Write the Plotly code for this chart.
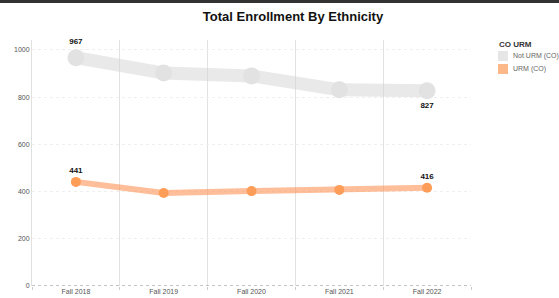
import plotly.graph_objects as go

terms = ["Fall 2018", "Fall 2019", "Fall 2020", "Fall 2021", "Fall 2022"]
not_urm = [967, 902, 890, 831, 827]
urm = [441, 394, 402, 407, 416]
series_names = ["Not URM (CO)", "URM (CO)"]
series_colors = ["#e6e6e6", "#fdb88a"]
legend_title = "CO URM"
y_ticks = [0, 200, 400, 600, 800, 1000]

W, H = 559, 298
ml, mr, mt, mb = 32, 88, 40, 12
pw, ph = W - ml - mr, H - mt - mb

def end_labels(vals):
    return [str(v) if i in (0, len(vals) - 1) else "" for i, v in enumerate(vals)]

fig = go.Figure()

fig.add_trace(go.Scatter(
    x=terms, y=not_urm, mode="lines+markers+text", name=series_names[0],
    line=dict(color="rgba(212,212,212,0.5)", width=13),
    marker=dict(color="#e2e2e2", size=17),
    text=end_labels(not_urm),
    textposition=["top center", "top center", "top center", "top center", "bottom center"],
    textfont=dict(family="Arial", size=8, color="#111111", weight="bold"),
    cliponaxis=False, showlegend=False, hoverinfo="skip"))

fig.add_trace(go.Scatter(
    x=terms, y=urm, mode="lines+markers+text", name=series_names[1],
    line=dict(color="rgba(253,150,90,0.62)", width=6),
    marker=dict(color="#fd9d58", size=10),
    text=end_labels(urm),
    textposition="top center",
    textfont=dict(family="Arial", size=8, color="#111111", weight="bold"),
    cliponaxis=False, showlegend=False, hoverinfo="skip"))

def px_x(p):
    return (p - ml) / pw

def px_y(p):
    return 1 - (p - mt) / ph

shapes = [
    dict(type="line", xref="paper", yref="y", x0=0, x1=1, y0=0, y1=0,
         line=dict(color="#888888", width=1, dash="dot")),
    dict(type="rect", xref="paper", yref="paper", x0=px_x(0), x1=px_x(W),
         y0=px_y(3), y1=px_y(0), fillcolor="#333333", line=dict(width=0)),
]
annotations = [
    dict(xref="paper", yref="paper", x=px_x(497), y=px_y(45), xanchor="left", yanchor="middle",
         text="<b>" + legend_title + "</b>", showarrow=False,
         font=dict(family="Arial", size=8, color="#333333")),
]
for i, (name, col) in enumerate(zip(series_names, series_colors)):
    cy = 56 + i * 13
    shapes.append(dict(type="rect", xref="paper", yref="paper",
                       x0=px_x(498), x1=px_x(508), y0=px_y(cy + 5), y1=px_y(cy - 5),
                       fillcolor=col, line=dict(width=0)))
    annotations.append(dict(xref="paper", yref="paper", x=px_x(511), y=px_y(cy),
                            xanchor="left", yanchor="middle", text=name, showarrow=False,
                            font=dict(family="Arial", size=7, color="#666666")))

fig.update_layout(
    width=W, height=H,
    margin=dict(l=ml, r=mr, t=mt, b=mb, autoexpand=False),
    paper_bgcolor="white", plot_bgcolor="white",
    font=dict(family="Arial", size=8, color="#555555"),
    showlegend=False,
    title=dict(text="<b>Total Enrollment By Ethnicity</b>", x=293 / W, xanchor="center",
               y=1 - 16 / H, yanchor="middle", yref="container",
               font=dict(family="Arial", size=13, color="#111111")),
    xaxis=dict(type="category", range=[-0.5, 4.5], tickson="boundaries",
               showgrid=True, gridcolor="#e2e2e2", gridwidth=1,
               ticks="outside", ticklen=3, tickcolor="#cccccc",
               showline=False, zeroline=False, automargin=False,
               tickfont=dict(size=7, color="#555555")),
    yaxis=dict(range=[0, 1042], tickvals=y_ticks, showgrid=True,
               gridcolor="#efefef", griddash="dot", zeroline=False,
               showline=True, linecolor="#e0e0e0", linewidth=1, automargin=False,
               ticks="", tickfont=dict(size=7, color="#555555")),
    shapes=shapes,
    annotations=annotations,
)

fig.write_html("out.html", config={"displayModeBar": False},
               post_script="document.body.style.margin='0';document.body.style.overflow='hidden';")
